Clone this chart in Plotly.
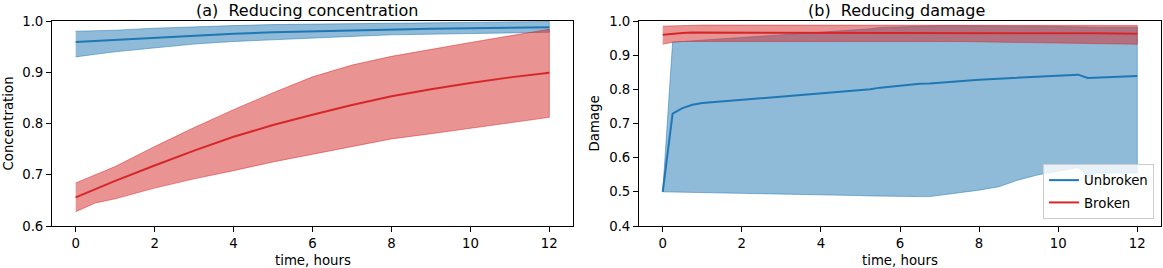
import plotly.graph_objects as go

# ---- Panel (a): Reducing concentration ----
t_a = [0, 0.5, 1, 2, 3, 4, 5, 6, 7, 8, 9, 10, 11, 12]
conc_unbroken_mean = [0.959, 0.961, 0.963, 0.968, 0.972, 0.975, 0.978, 0.980, 0.982, 0.984, 0.985, 0.986, 0.987, 0.988]
conc_unbroken_hi = [0.980, 0.981, 0.982, 0.986, 0.989, 0.991, 0.993, 0.994, 0.995, 0.996, 0.997, 0.998, 0.998, 0.999]
conc_unbroken_lo = [0.930, 0.935, 0.940, 0.948, 0.955, 0.960, 0.964, 0.967, 0.970, 0.973, 0.975, 0.976, 0.977, 0.978]
conc_broken_mean = [0.656, 0.672, 0.688, 0.718, 0.747, 0.774, 0.797, 0.817, 0.836, 0.853, 0.867, 0.879, 0.890, 0.899]
conc_broken_hi = [0.684, 0.700, 0.716, 0.755, 0.792, 0.827, 0.860, 0.891, 0.914, 0.931, 0.945, 0.958, 0.971, 0.984]
conc_broken_lo = [0.628, 0.645, 0.653, 0.674, 0.692, 0.708, 0.725, 0.740, 0.755, 0.770, 0.780, 0.790, 0.801, 0.812]

# ---- Panel (b): Reducing damage ----
t_b = [0, 0.25, 0.5, 0.75, 1, 2, 3, 4, 5, 5.25, 5.5, 6, 6.5, 6.75, 7, 7.5, 8, 8.5, 9, 9.5, 10, 10.5, 10.75, 11, 12]
dmg_unbroken_mean = [0.500, 0.729, 0.745, 0.755, 0.760, 0.769, 0.778, 0.787, 0.796, 0.800, 0.805, 0.811, 0.816, 0.817,
                     0.820, 0.824, 0.828, 0.831, 0.835, 0.837, 0.840, 0.843, 0.833, 0.834, 0.839]
dmg_unbroken_hi = [0.500, 0.938, 0.940, 0.942, 0.944, 0.952, 0.960, 0.967, 0.974, 0.977, 0.981, 0.983, 0.986, 0.986,
                   0.986, 0.986, 0.985, 0.985, 0.985, 0.985, 0.984, 0.984, 0.982, 0.982, 0.982]
dmg_unbroken_lo = [0.500, 0.500, 0.499, 0.498, 0.497, 0.495, 0.493, 0.491, 0.489, 0.488, 0.487, 0.486, 0.486, 0.486,
                   0.490, 0.498, 0.505, 0.515, 0.535, 0.550, 0.561, 0.571, 0.545, 0.555, 0.555]
dmg_broken_mean = [0.960, 0.963, 0.965, 0.966, 0.966, 0.966, 0.966, 0.966, 0.966, 0.966, 0.966, 0.966, 0.966, 0.966,
                   0.966, 0.965, 0.965, 0.965, 0.965, 0.964, 0.964, 0.964, 0.964, 0.964, 0.963]
dmg_broken_hi = [0.985, 0.986, 0.987, 0.987, 0.988, 0.988, 0.988, 0.988, 0.988, 0.988, 0.988, 0.988, 0.988, 0.988,
                 0.988, 0.988, 0.988, 0.988, 0.988, 0.988, 0.987, 0.987, 0.987, 0.987, 0.987]
dmg_broken_lo = [0.932, 0.938, 0.940, 0.941, 0.941, 0.941, 0.941, 0.941, 0.941, 0.941, 0.941, 0.941, 0.941, 0.940,
                 0.940, 0.940, 0.939, 0.939, 0.938, 0.938, 0.937, 0.936, 0.935, 0.934, 0.932]

BLUE = "#1f77b4"
RED = "#d62728"
BLUE_F = "rgba(31,119,180,0.5)"
RED_F = "rgba(214,39,40,0.5)"
FONT = "DejaVu Sans"
TICK = 13.3
TITLE = 16

fig = go.Figure()


def band(t, lo, hi, fill, xa, ya):
    fig.add_trace(go.Scatter(
        x=list(t) + list(t)[::-1], y=list(hi) + list(lo)[::-1],
        fill="toself", fillcolor=fill, mode="lines",
        line=dict(color=fill, width=1), showlegend=False, hoverinfo="skip",
        xaxis=xa, yaxis=ya))


def line(t, y, color, name, show, xa, ya):
    fig.add_trace(go.Scatter(
        x=t, y=y, mode="lines", line=dict(color=color, width=2),
        name=name, showlegend=show, legendgroup=name, xaxis=xa, yaxis=ya))


band(t_a, conc_unbroken_lo, conc_unbroken_hi, BLUE_F, "x", "y")
line(t_a, conc_unbroken_mean, BLUE, "Unbroken", False, "x", "y")
band(t_a, conc_broken_lo, conc_broken_hi, RED_F, "x", "y")
line(t_a, conc_broken_mean, RED, "Broken", False, "x", "y")

band(t_b, dmg_unbroken_lo, dmg_unbroken_hi, BLUE_F, "x2", "y2")
line(t_b, dmg_unbroken_mean, BLUE, "Unbroken", True, "x2", "y2")
band(t_b, dmg_broken_lo, dmg_broken_hi, RED_F, "x2", "y2")
line(t_b, dmg_broken_mean, RED, "Broken", True, "x2", "y2")

W, H = 1163, 268
ax_common = dict(showgrid=False, zeroline=False, showline=True, linecolor="black", linewidth=1,
                 mirror=True, ticks="outside", ticklen=5, tickcolor="black", tickwidth=1,
                 automargin=False,
                 tickfont=dict(family=FONT, size=TICK, color="black"))
y_dom = [(H - 226) / H, (H - 21) / H]

fig.update_layout(
    width=W, height=H, margin=dict(l=0, r=0, t=0, b=0, autoexpand=False),
    paper_bgcolor="white", plot_bgcolor="white",
    font=dict(family=FONT, size=TICK, color="black"),
    xaxis=dict(domain=[52 / W, 573 / W], range=[-0.6, 12.6], tickvals=[0, 2, 4, 6, 8, 10, 12], anchor="y", **ax_common),
    yaxis=dict(domain=y_dom, range=[0.6, 1.0], tickvals=[0.6, 0.7, 0.8, 0.9, 1.0], tickformat=".1f", anchor="x", **ax_common),
    xaxis2=dict(domain=[639 / W, 1161 / W], range=[-0.6, 12.6], tickvals=[0, 2, 4, 6, 8, 10, 12], anchor="y2", **ax_common),
    yaxis2=dict(domain=y_dom, range=[0.4, 1.0], tickvals=[0.4, 0.5, 0.6, 0.7, 0.8, 0.9, 1.0], tickformat=".1f", anchor="x2", **ax_common),
    legend=dict(x=1154 / W, y=(H - 219) / H, xanchor="right", yanchor="bottom",
                bgcolor="rgba(255,255,255,0.8)", bordercolor="#cccccc", borderwidth=1,
                font=dict(family=FONT, size=TICK), tracegroupgap=2),
    showlegend=True,
)

ann = [
    dict(text="(a)\u00a0\u00a0Reducing concentration", x=307 / W, y=(H - 10) / H, size=TITLE),
    dict(text="(b)\u00a0\u00a0Reducing damage", x=896 / W, y=(H - 10) / H, size=TITLE),
    dict(text="time, hours", x=312.5 / W, y=(H - 260) / H, size=TICK),
    dict(text="time, hours", x=900 / W, y=(H - 260) / H, size=TICK),
]
for a in ann:
    fig.add_annotation(text=a["text"], x=a["x"], y=a["y"], xref="paper", yref="paper",
                       showarrow=False, xanchor="center", yanchor="middle",
                       font=dict(family=FONT, size=a["size"], color="black"))
for txt, xp in [("Concentration", 8), ("Damage", 594)]:
    fig.add_annotation(text=txt, x=xp / W, y=(H - 123.5) / H, xref="paper", yref="paper",
                       showarrow=False, textangle=-90, xanchor="center", yanchor="middle",
                       font=dict(family=FONT, size=TICK, color="black"))

fig.write_html("out.html", config={"displayModeBar": False},
               post_script="document.body.style.margin='0';document.body.style.overflow='hidden';")
